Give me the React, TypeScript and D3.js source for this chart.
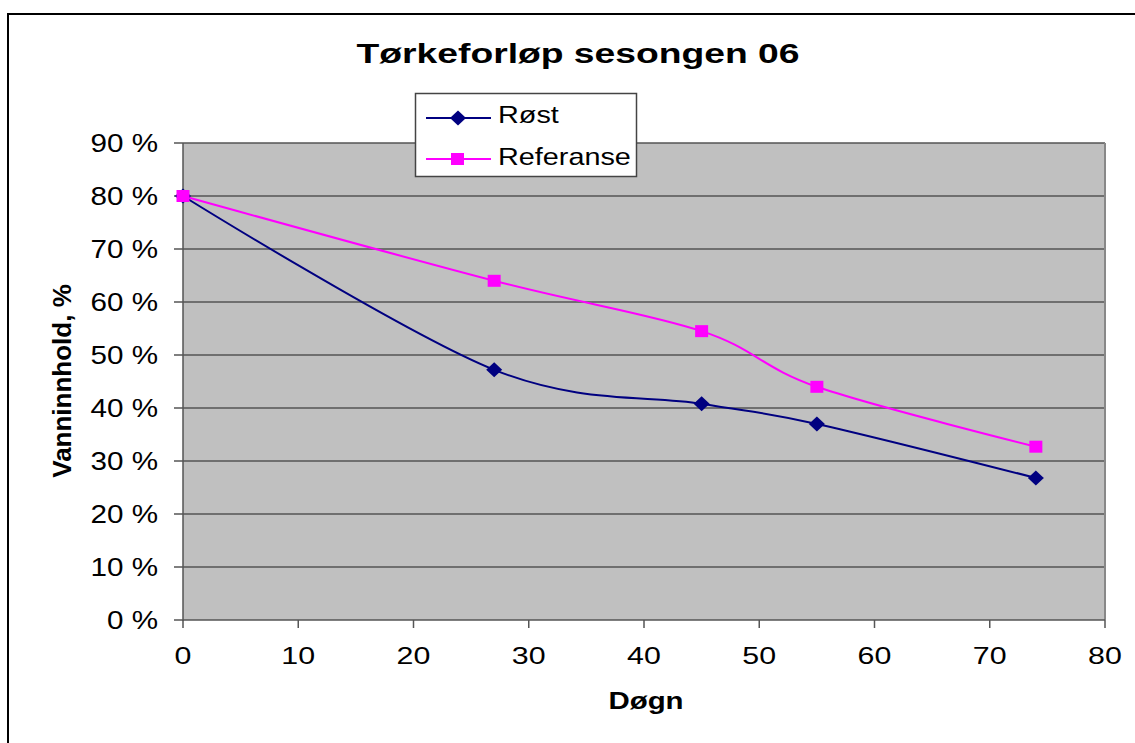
import React from "react";
import * as d3 from "d3";

const days = [0, 27, 45, 55, 74];
const rost = [80, 47.2, 40.8, 37, 26.8];
const referanse = [80, 64, 54.5, 44, 32.7];
const xTicks = [0, 10, 20, 30, 40, 50, 60, 70, 80];
const yTicks = [0, 10, 20, 30, 40, 50, 60, 70, 80, 90];
const seriesNames = ["Røst", "Referanse"];

const W = 1135, H = 743;
const left = 183, right = 1105, top = 143, bottom = 620;
const FONT = "Liberation Sans, Arial, sans-serif";

function T({ x, y, sx = 1, anchor = "start", size, bold = false, children }: any) {
  return (
    <g transform={`translate(${x},${y}) scale(${sx},1)`}>
      <text x={0} y={0} textAnchor={anchor} fontSize={size} fontWeight={bold ? "bold" : "normal"} fill="#000">
        {children}
      </text>
    </g>
  );
}

export default function App() {
  const x = d3.scaleLinear().domain([0, 80]).range([left, right]);
  const y = d3.scaleLinear().domain([0, 90]).range([bottom, top]);
  const line = d3
    .line<[number, number]>()
    .x((d) => x(d[0]))
    .y((d) => y(d[1]))
    .curve(d3.curveCardinal.tension(0));
  const rPts: [number, number][] = days.map((d, i) => [d, rost[i]]);
  const fPts: [number, number][] = days.map((d, i) => [d, referanse[i]]);
  const diamond = (cx: number, cy: number, sx: number, sy: number) =>
    `M${cx},${cy - sy}L${cx + sx},${cy}L${cx},${cy + sy}L${cx - sx},${cy}Z`;

  return (
    <svg
      width={W}
      height={H}
      style={{ position: "absolute", left: 0, top: 0, display: "block" }}
      fontFamily={FONT}
    >
      <rect x={0} y={0} width={W} height={H} fill="#fff" />
      <rect x={8} y={14} width={W + 10} height={H + 10} fill="#fff" stroke="#000" strokeWidth={2} />
      <T x={578} y={63} sx={1.38} anchor="middle" size={27} bold>
        Tørkeforløp sesongen 06
      </T>
      <rect x={left} y={top} width={right - left} height={bottom - top} fill="#C0C0C0" />
      {yTicks.map((t) => (
        <g key={t}>
          {t > 0 && (
            <line x1={left} x2={right} y1={y(t)} y2={y(t)} stroke="#555" strokeWidth={1.5} />
          )}
          <line x1={left - 9} x2={left} y1={y(t)} y2={y(t)} stroke="#555" strokeWidth={1.5} />
          <T x={158} y={y(t) + 9} sx={1.14} anchor="end" size={26}>
            {t} %
          </T>
        </g>
      ))}
      <line x1={right} x2={right} y1={top} y2={bottom} stroke="#888" strokeWidth={2} />
      <line x1={left} x2={left} y1={top} y2={bottom + 1} stroke="#555" strokeWidth={1.5} />
      <line x1={left} x2={right} y1={bottom} y2={bottom} stroke="#555" strokeWidth={1.5} />
      {xTicks.map((t) => (
        <g key={t}>
          <line x1={x(t)} x2={x(t)} y1={bottom} y2={bottom + 8} stroke="#555" strokeWidth={1.5} />
          <T x={x(t)} y={664} sx={1.24} anchor="middle" size={24.5}>
            {t}
          </T>
        </g>
      ))}
      <T x={646} y={709} sx={1.28} anchor="middle" size={23} bold>
        Døgn
      </T>
      <text
        transform={`translate(71,381) rotate(-90)`}
        textAnchor="middle"
        fontSize={26}
        fontWeight="bold"
      >
        Vanninnhold, %
      </text>
      <path d={line(fPts) || ""} fill="none" stroke="#FF00FF" strokeWidth={2} />
      <path d={line(rPts) || ""} fill="none" stroke="#000080" strokeWidth={2} />
      {rPts.map((p, i) => (
        <path key={"r" + i} d={diamond(x(p[0]), y(p[1]), 8, 7.5)} fill="#000080" />
      ))}
      {fPts.map((p, i) => (
        <rect key={"f" + i} x={x(p[0]) - 6.5} y={y(p[1]) - 6} width={13} height={12} fill="#FF00FF" />
      ))}
      <rect x={415.5} y={93.5} width={221} height={83} fill="#fff" stroke="#444" strokeWidth={1.5} />
      <line x1={426} x2={491} y1={118} y2={118} stroke="#000080" strokeWidth={2} />
      <path d={diamond(458, 118, 8, 7.5)} fill="#000080" />
      <T x={498} y={123} sx={1.2} size={24}>{seriesNames[0]}</T>
      <line x1={426} x2={491} y1={159} y2={159} stroke="#FF00FF" strokeWidth={2} />
      <rect x={451} y={153} width={13} height={12} fill="#FF00FF" />
      <T x={498} y={165} sx={1.2} size={24}>{seriesNames[1]}</T>
    </svg>
  );
}
